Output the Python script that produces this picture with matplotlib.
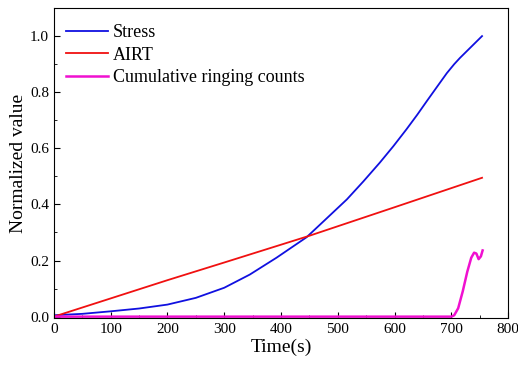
import matplotlib.pyplot as plt
from matplotlib.ticker import MultipleLocator

# time (s) and normalized values
stress_t = [0, 50, 100, 150, 200, 250, 300, 345, 392, 445, 475, 516, 545, 574, 598, 621, 640, 657, 675, 692, 705, 715, 735, 754]
stress_v = [0.005, 0.01, 0.019, 0.029, 0.043, 0.067, 0.103, 0.15, 0.21, 0.283, 0.34, 0.418, 0.482, 0.549, 0.608, 0.668, 0.72, 0.769, 0.82, 0.868, 0.9, 0.922, 0.962, 1.0]

airt_t = [0, 100, 200, 300, 448, 600, 754]
airt_v = [0.0, 0.065, 0.13, 0.193, 0.287, 0.39, 0.495]

ring_t = [0, 100, 200, 300, 400, 500, 600, 700, 705, 712, 720, 728, 735, 740, 744, 748, 752, 755]
ring_v = [0, 0, 0, 0, 0, 0, 0, 0, 0.005, 0.03, 0.09, 0.16, 0.21, 0.228, 0.225, 0.205, 0.215, 0.236]

plt.rcParams['font.family'] = ['Liberation Serif', 'DejaVu Serif']
plt.rcParams['font.size'] = 11

fig = plt.figure(figsize=(5.18, 3.66), dpi=100)
ax = fig.add_axes([0.104, 0.131, 0.877, 0.847])

ax.plot(stress_t, stress_v, color='#1010e0', lw=1.3, label='Stress')
ax.plot(airt_t, airt_v, color='#f01010', lw=1.3, label='AIRT')
ax.plot(ring_t, ring_v, color='#f010d0', lw=1.8, label='Cumulative ringing counts')

ax.set_xlim(0, 800)
ax.set_ylim(-0.005, 1.1)
ax.xaxis.set_major_locator(MultipleLocator(100))
ax.xaxis.set_minor_locator(MultipleLocator(50))
ax.yaxis.set_major_locator(MultipleLocator(0.2))
ax.yaxis.set_minor_locator(MultipleLocator(0.1))
ax.yaxis.set_major_formatter(plt.FormatStrFormatter('%.1f'))
ax.tick_params(which='both', direction='in')
ax.tick_params(which='major', length=4)
ax.tick_params(which='minor', length=2.5)

ax.set_xlabel('Time(s)', fontsize=14, labelpad=2)
ax.set_ylabel('Normalized value', fontsize=14, labelpad=2)

ax.legend(loc='upper left', bbox_to_anchor=(-0.009, 1.0), frameon=False,
          fontsize=13, handlelength=2.3, handletextpad=0.3,
          borderaxespad=0.5, labelspacing=0.3)

fig.savefig('out.png', dpi=100)
